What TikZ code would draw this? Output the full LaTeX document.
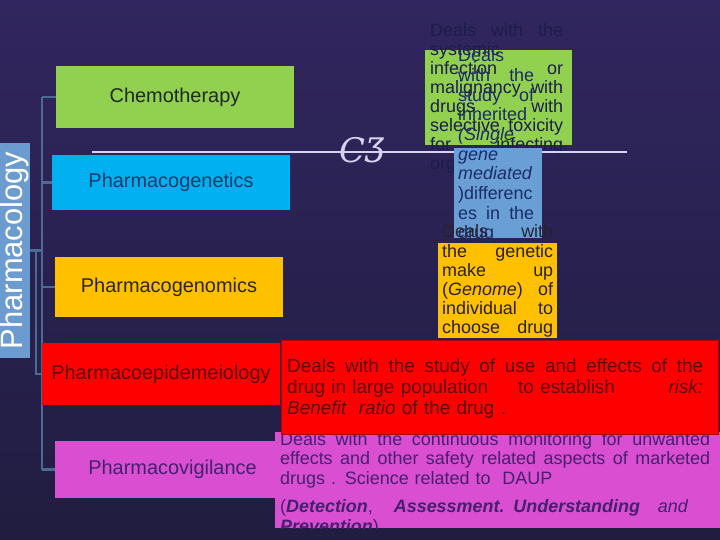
\documentclass[tikz,border=0pt]{standalone}
\usepackage{fontspec}
\setmainfont{Liberation Sans}
\newfontfamily\ornfont{DejaVu Serif}

\definecolor{bgtop}{HTML}{31265F}
\definecolor{bgbot}{HTML}{201D40}
\definecolor{pharmablue}{HTML}{6C9BCF}
\definecolor{treeblue}{HTML}{4C6A93}
\definecolor{chemogreen}{HTML}{92D050}
\definecolor{geneblue}{HTML}{00B0F0}
\definecolor{genomorange}{HTML}{FFC000}
\definecolor{epired}{HTML}{FF0000}
\definecolor{vigimagenta}{HTML}{DA4FD2}
\definecolor{noteblue}{HTML}{6A9FD6}
\definecolor{rulecol}{HTML}{D6D2F0}
\definecolor{chemotext}{HTML}{1E2A1C}
\definecolor{genetext}{HTML}{1C3A6C}
\definecolor{genomtext}{HTML}{2C2622}
\definecolor{epitext}{HTML}{5C0404}
\definecolor{vigitext}{HTML}{45206E}
\definecolor{navytext}{HTML}{1C1D4C}
\definecolor{bluenote}{HTML}{1B2C66}
\definecolor{darknote}{HTML}{2A2030}

% justified line of a given width (spaces stretch)
\newcommand{\fullline}[2]{{\spaceskip=0pt\relax\makebox[#1][s]{#2}}}

\tikzset{
  topicbox/.style={rectangle, inner sep=0pt, font=\fontsize{20}{24}\selectfont},
  treeline/.style={draw=treeblue, line width=2.5bp},
  notetext/.style={inner sep=0pt, anchor=base west, align=left},
}

\begin{document}
\begin{tikzpicture}[x=1bp, y=-1bp]
  % 1. background
  \shade[top color=bgtop, bottom color=bgbot] (0,0) rectangle (720,540);
  \useasboundingbox (0,0) rectangle (720,540);

  % 2. Pharmacology label
  \node[fill=pharmablue, text=white, inner sep=0pt, minimum width=215bp, minimum height=30bp,
        rotate=90, font=\fontsize{31}{31}\selectfont] (pharma) at (15,250.5) {Pharmacology};

  % 3. tree lines
  \coordinate (t1) at (42,97);
  \coordinate (t5) at (42,469.5);
  \coordinate (s1) at (36,251);
  \coordinate (s2) at (36,374);
  \draw[treeline] (t1) -- (t5);
  \draw[treeline] (pharma.south) -- (pharma.south -| t1);
  \draw[treeline] (s1) -- (s2) -- (s2 -| t1);

  % 4. topic boxes
  \node[topicbox, fill=chemogreen, text=chemotext, minimum width=238bp, minimum height=62bp] (chemo) at (175,97) {Chemotherapy};
  \node[topicbox, fill=geneblue, text=genetext, minimum width=238bp, minimum height=55bp] (gene) at (171,182.5) {Pharmacogenetics};
  \node[topicbox, fill=genomorange, text=genomtext, minimum width=228bp, minimum height=60bp] (genom) at (169,287) {Pharmacogenomics};
  \node[topicbox, fill=vigimagenta, text=vigitext, minimum width=235bp, minimum height=57bp] (vigi) at (172.5,469.5) {Pharmacovigilance};
  \draw[treeline] (t1) -- (chemo.west);
  \draw[treeline] (gene.west -| t1) -- (gene.west);
  \draw[treeline] (genom.west -| t1) -- (genom.west);
  \draw[treeline] (vigi.west -| t1) -- (vigi.west);

  % 5. pharmacovigilance note (cut at the bottom)
  \node[fill=vigimagenta, inner sep=0pt, minimum width=445bp, minimum height=96bp] (viginote) at (497.5,480) {};
  \begin{scope}
    \clip (275,425) rectangle (720,528);
    \node[notetext, text=vigitext, text width=430bp, font=\fontsize{18}{20}\selectfont] (vigitxt) at (280,445)
      {\fullline{430bp}{Deals with the continuous monitoring for unwanted}\\
       \fullline{430bp}{effects and other safety related aspects of marketed}\\
       drugs . Science related to\ \ DAUP\\[8bp]
       \fullline{408bp}{(\textbf{\textit{Detection}}, \textbf{\textit{Assessment.}} \textbf{\textit{Understanding}} \textit{and}}\\
       \textbf{\textit{Prevention}})};
  \end{scope}

  % 6. pharmacoepidemeiology
  \node[topicbox, fill=epired, text=epitext, minimum width=238bp, minimum height=62bp] (epi) at (161,374) {Pharmacoepidemeiology};
  \node[fill=epired, draw=epired!70!black, inner sep=0pt, minimum width=437bp, minimum height=94bp] (epinote) at (499.5,387) {};
  \node[notetext, text=epitext, text width=416bp, font=\fontsize{19}{21.5}\selectfont] (epitxt) at (287,372)
    {\fullline{416bp}{Deals with the study of use and effects of the}\\
     drug in large population\hspace{30bp}to establish\hfill\textit{risk:}\\
     \textit{Benefit}\hspace{12bp}\textit{ratio} of the drug .};

  % 7. chemotherapy note
  \node[fill=chemogreen, inner sep=0pt, minimum width=147bp, minimum height=95bp] (chemonote) at (498.5,97.5) {};
  \node[notetext, text=navytext, text width=133bp, font=\fontsize{18}{19}\selectfont] (chemotxt) at (430,37)
    {Deals \hfill with \hfill the\\
     systemic\\
     infection \hfill or\\
     malignancy \hfill with\\
     drugs \hfill with\\
     selective \hfill toxicity\\
     for \hfill infecting\\
     organism};

  % 8. rule with ornament
  \coordinate (rl) at (92,152);
  \coordinate (rr) at (627,152);
  \draw[rulecol, line width=1.5bp] (rl) -- (rr);
  \node[text=rulecol, inner sep=0pt, font=\ornfont\itshape\fontsize{34}{34}\selectfont] (orn) at (362,150) {CƷ};

  % 9. pharmacogenetics note
  \node[fill=noteblue, inner sep=0pt, minimum width=88bp, minimum height=90bp] (genenote) at (498,193) {};
  \node[notetext, text=bluenote, text width=76bp, font=\fontsize{18}{19.7}\selectfont] (genetxt) at (458,62)
    {Deals\\
     with \hfill the\\
     study \hfill of\\
     inherited\\
     \textit{(Single}\\
     \textit{gene}\\
     \textit{mediated}\\
     )differenc\\
     es \hfill in \hfill the\\
     drug};

  % 10. pharmacogenomics note
  \node[fill=genomorange, inner sep=0pt, minimum width=119bp, minimum height=95bp] (genomnote) at (497.5,290.5) {};
  \node[notetext, text=darknote, text width=111bp, font=\fontsize{18}{19.2}\selectfont] (genomtxt) at (442,238)
    {Deals \hfill with\\
     the \hfill genetic\\
     make \hfill up\\
     (\textit{Genome}) \hfill of\\
     individual \hfill to\\
     choose \hfill drug};
\end{tikzpicture}
\end{document}
